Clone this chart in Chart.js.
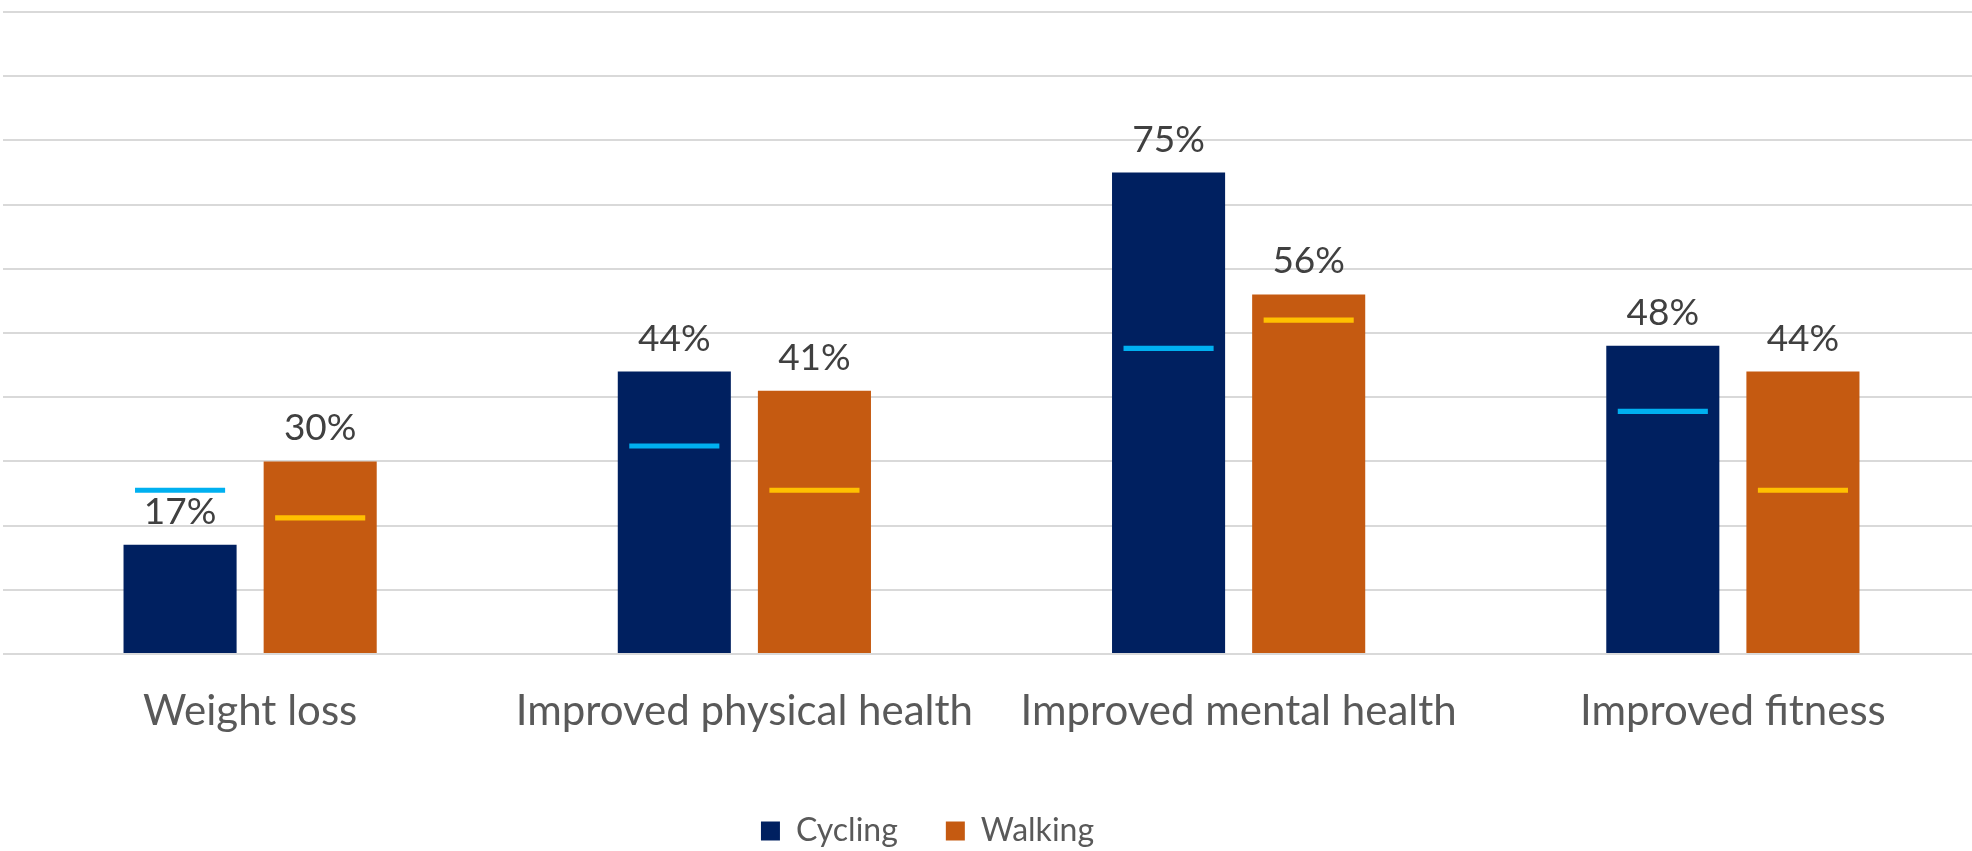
<!DOCTYPE html>
<html>
<head>
<meta charset="utf-8">
<script src="https://cdn.jsdelivr.net/npm/chart.js@4.4.1/dist/chart.umd.min.js"></script>
<style>
  html, body { margin: 0; padding: 0; background: #fff; overflow: hidden; }
  #wrap { width: 1980px; height: 851px; }
</style>
</head>
<body>
<div id="wrap"><canvas id="chart1"></canvas></div>
<script>
// data
var categories = ["Weight loss", "Improved physical health", "Improved mental health", "Improved fitness"]
var cycling = [17, 44, 75, 48]
var walking = [30, 41, 56, 44]
// the thin marker lines inside the bars
var cyclingMark = [25.5, 32.4, 47.6, 37.8]
var walkingMark = [21.2, 25.5, 52.0, 25.5]

Chart.defaults.font.family = "Lato, 'Noto Sans', sans-serif"

function toMark(arr){
    var out = []
    for (var i = 0; i < arr.length; i++){
        out.push([arr[i] - 0.4, arr[i] + 0.4])
    }
    return out
}

// draws the % labels above each bar
const barLabels = {
    id: 'barLabels',
    afterDatasetsDraw(chart){
        const ctx = chart.ctx
        ctx.save()
        ctx.font = "37px Lato, 'Noto Sans', sans-serif"
        ctx.fillStyle = "#404040"
        ctx.textAlign = "center"
        ctx.textBaseline = "alphabetic"
        chart.data.datasets.forEach((ds, di) => {
            if (ds.isMark) return
            chart.getDatasetMeta(di).data.forEach((bar, i) => {
                ctx.fillText(ds.data[i] + "%", bar.x, bar.y - 21)
            })
        })
        ctx.restore()
    }
}

// legend sits left of centre in the original
const legendShift = {
    id: 'legendShift',
    afterLayout(chart){
        if (chart.legend) chart.legend.right -= 128
    }
}

new Chart(document.getElementById("chart1"), {
    type: 'bar',
    data: {
        labels: categories,
        datasets: [
            {
                label: 'Cycling mark',
                isMark: true,
                data: toMark(cyclingMark),
                backgroundColor: "#00B0F0",
                stack: 'c',
                order: 0,
                barPercentage: 0.643,
                categoryPercentage: 0.567
            },
            {
                label: 'Walking mark',
                isMark: true,
                data: toMark(walkingMark),
                backgroundColor: "#FFC000",
                stack: 'w',
                order: 0,
                barPercentage: 0.643,
                categoryPercentage: 0.567
            },
            {
                label: 'Cycling',
                data: cycling,
                backgroundColor: "#002060",
                stack: 'c',
                order: 1,
                barPercentage: 0.807,
                categoryPercentage: 0.567
            },
            {
                label: 'Walking',
                data: walking,
                backgroundColor: "#C55A11",
                stack: 'w',
                order: 1,
                barPercentage: 0.807,
                categoryPercentage: 0.567
            }
        ]
    },
    options: {
        responsive: true,
        maintainAspectRatio: false,
        animation: false,
        layout: { padding: { top: 12, left: 3, right: 0, bottom: -6 } },
        scales: {
            x: {
                grid: { display: false },
                border: { display: false },
                ticks: {
                    color: "#595959",
                    font: { size: 42 },
                    padding: 24,
                    maxRotation: 0,
                    autoSkip: false
                },
                afterFit(scale){ scale.height = 113 }
            },
            y: {
                stacked: false,
                min: 0,
                max: 100,
                ticks: { display: false, stepSize: 10 },
                border: { display: false },
                grid: { color: "#d9d9d9", lineWidth: 2, drawTicks: false }
            }
        },
        plugins: {
            tooltip: { enabled: false },
            legend: {
                position: 'bottom',
                labels: {
                    color: "#595959",
                    font: { size: 32 },
                    boxWidth: 19,
                    boxHeight: 19,
                    padding: 48,
                    filter: function(item){ return item.text == 'Cycling' || item.text == 'Walking' }
                }
            }
        }
    },
    plugins: [barLabels, legendShift]
});
</script>
</body>
</html>
